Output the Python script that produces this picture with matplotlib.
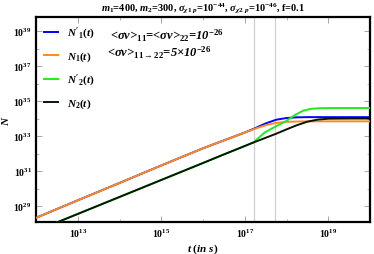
import matplotlib
matplotlib.use("Agg")
import matplotlib.pyplot as plt
from matplotlib.ticker import FixedLocator, LogFormatterMathtext, NullFormatter
import numpy as np

# Значения (log10 t и log10 N)
log_t = [12, 13, 14, 15, 16, 16.5, 17, 17.25, 17.5, 17.75, 18, 18.25, 18.5, 18.75, 19, 19.5, 20]
log_N1 = [28.33, 29.33, 30.32, 31.32, 32.3, 32.75, 33.2, 33.42, 33.62, 33.75, 33.81, 33.83, 33.84, 33.84, 33.84, 33.84, 33.84]
log_N1p = [28.33, 29.33, 30.32, 31.32, 32.3, 32.75, 33.2, 33.45, 33.72, 33.93, 34.03, 34.07, 34.08, 34.08, 34.08, 34.08, 34.08]
log_N2 = [27.58, 28.55, 29.52, 30.49, 31.46, 31.95, 32.43, 32.67, 32.9, 33.13, 33.38, 33.62, 33.82, 33.94, 33.99, 34.0, 34.0]
log_t_green = [12, 13, 14, 15, 16, 16.5, 17, 17.22, 17.48, 17.74, 18.0, 18.2, 18.4, 18.6, 18.8, 19.1, 19.5, 20]
log_N2p = [27.58, 28.55, 29.52, 30.49, 31.46, 31.95, 32.43, 32.66, 33.21, 33.55, 33.87, 34.2, 34.45, 34.56, 34.59, 34.6, 34.6, 34.6]
t_marks = [1.7e17, 5.4e17]

plt.rcParams['font.family'] = ['Liberation Serif', 'DejaVu Serif']
plt.rcParams['font.weight'] = 'bold'
plt.rcParams['mathtext.fontset'] = 'custom'
plt.rcParams['mathtext.rm'] = 'Liberation Serif:bold'
plt.rcParams['mathtext.it'] = 'Liberation Serif:italic:bold'
plt.rcParams['mathtext.bf'] = 'Liberation Serif:bold'

fig = plt.figure(figsize=(3.74, 2.55), dpi=100)
ax = fig.add_axes([36 / 374, 32 / 255, 334 / 374, 205 / 255])

t = 10.0 ** np.array(log_t)
tg = 10.0 ** np.array(log_t_green)

for tm in t_marks:
    ax.axvline(tm, color="#d0d0d0", lw=0.9, zorder=1)

ax.plot(t, 10.0 ** np.array(log_N1p), color="#0000ff", lw=1.4, label=r"$N'_1(t)$", zorder=2)
ax.plot(t, 10.0 ** np.array(log_N1), color="#ff8a1c", lw=1.4, label=r"$N_1(t)$", zorder=3)
ax.plot(tg, 10.0 ** np.array(log_N2p), color="#1aef1a", lw=1.4, label=r"$N'_2(t)$", zorder=4)
ax.plot(t, 10.0 ** np.array(log_N2), color="#061606", lw=1.4, label=r"$N_2(t)$", zorder=5)

ax.set_xscale("log")
ax.set_yscale("log")
ax.set_xlim(1e12, 1e20)
ax.set_ylim(10 ** 28.09, 10 ** 39.8)

ax.xaxis.set_major_locator(FixedLocator([1e13, 1e15, 1e17, 1e19]))
ax.xaxis.set_minor_locator(FixedLocator([1e12, 1e14, 1e16, 1e18, 1e20]))
ax.yaxis.set_major_locator(FixedLocator([1e29, 1e31, 1e33, 1e35, 1e37, 1e39]))
ax.yaxis.set_minor_locator(FixedLocator([1e30, 1e32, 1e34, 1e36, 1e38]))
ax.xaxis.set_major_formatter(LogFormatterMathtext())
ax.yaxis.set_major_formatter(LogFormatterMathtext())
ax.xaxis.set_minor_formatter(NullFormatter())
ax.yaxis.set_minor_formatter(NullFormatter())
ax.tick_params(which="both", direction="in", top=True, right=True, color="#999999",
               labelsize=7, pad=3)
ax.tick_params(which="major", length=4, width=0.6)
ax.tick_params(which="minor", length=2.5, width=0.5)

for s in ax.spines.values():
    s.set_linewidth(1.6)

ax.set_xlabel(r"$t\ (in\ s)$", fontsize=8, labelpad=2)
ax.set_ylabel(r"$N$", fontsize=8, labelpad=2)
ax.set_title(r"$m_1$=400, $m_2$=300, $\sigma_{\chi 1\ p}$=$10^{-44}$, $\sigma_{\chi 2\ p}$=$10^{-46}$, f=0.1",
             fontsize=7.5, fontweight="bold", pad=5)

ax.legend(loc="upper left", frameon=False, fontsize=8, handlelength=1.3,
          handletextpad=0.8, labelspacing=0.78, borderaxespad=0.3, bbox_to_anchor=(0.0, 1.0))
ax.text(0.2216, 0.915, r"<$\sigma v$>$_{11}$=<$\sigma v$>$_{22}$=10$^{-26}$", transform=ax.transAxes,
        fontsize=9, fontstyle="italic", va="center")
ax.text(0.2126, 0.83, r"<$\sigma v$>$_{11\rightarrow 22}$=5×10$^{-26}$", transform=ax.transAxes,
        fontsize=9, fontstyle="italic", va="center")

fig.savefig("out.png", dpi=100)
